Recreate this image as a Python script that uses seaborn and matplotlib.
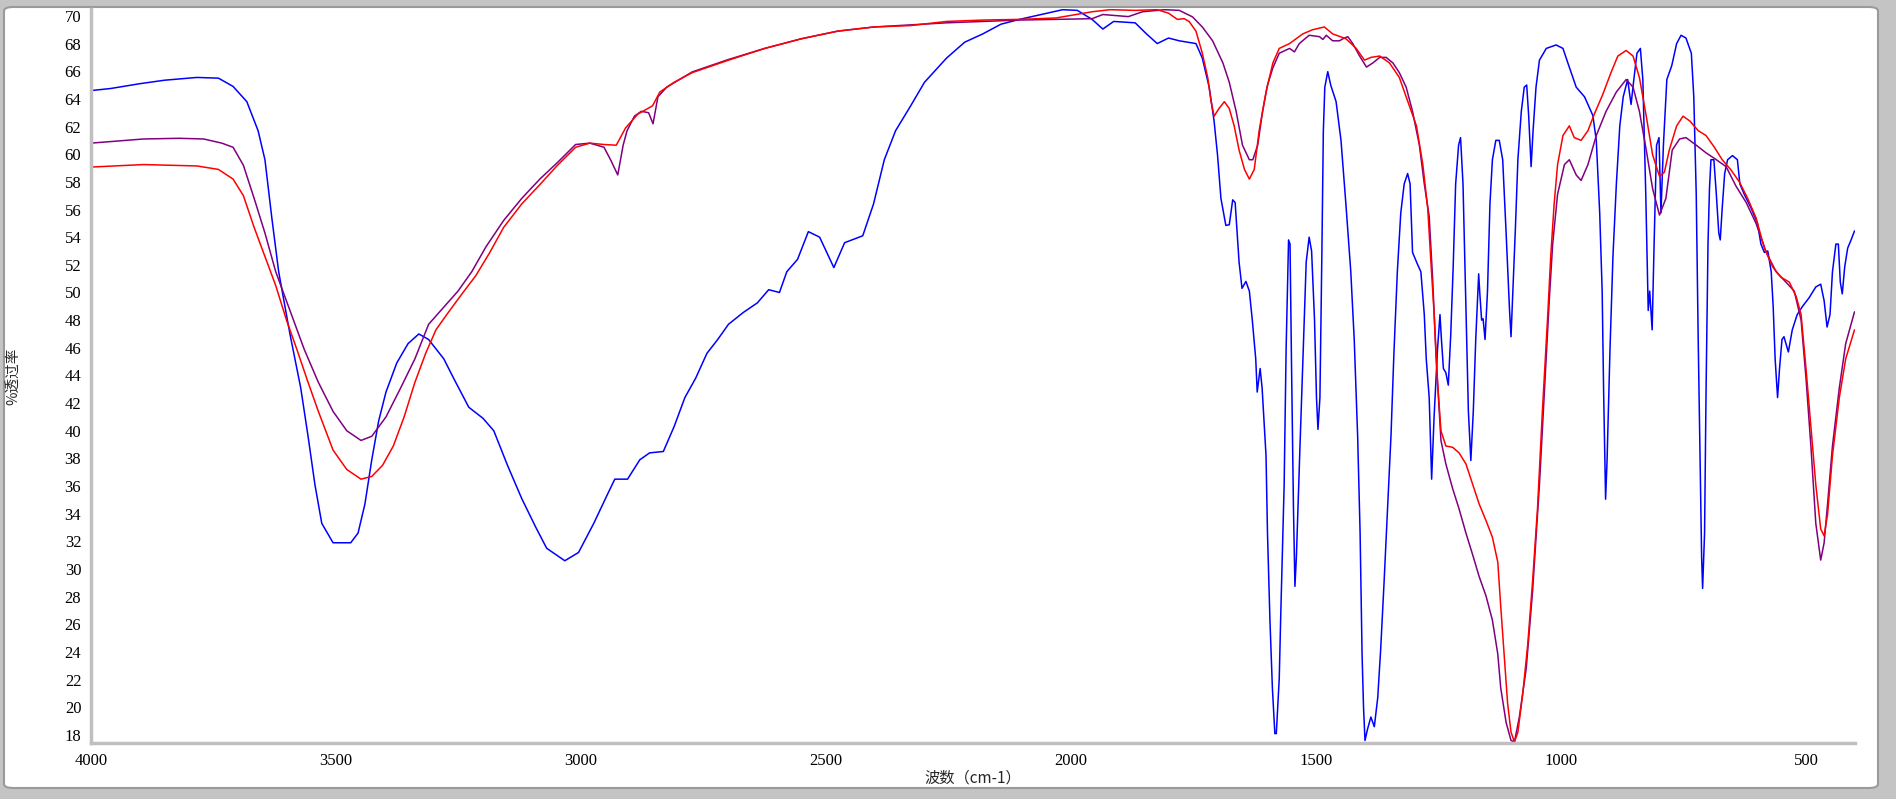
import numpy as np
import pandas as pd
import matplotlib
matplotlib.use('Agg')
import matplotlib.pyplot as plt
from matplotlib.patches import FancyBboxPatch
from matplotlib.ticker import MultipleLocator
import seaborn as sns

# 波数 (cm-1) / %透过率
blue_wn = [4000, 3960, 3900, 3850, 3784, 3740, 3710, 3682, 3659, 3645, 3631, 3617, 3594, 3572, 3557,
           3543, 3529, 3506, 3470, 3455, 3441, 3427, 3413, 3398, 3376, 3353, 3331, 3311, 3280, 3260,
           3229, 3200, 3178, 3150, 3121, 3092, 3070, 3033, 3005, 2974, 2946, 2931, 2905, 2880, 2860,
           2832, 2810, 2788, 2766, 2743, 2721, 2699, 2669, 2640, 2617, 2595, 2580, 2558, 2536, 2513,
           2484, 2462, 2425, 2403, 2381, 2358, 2328, 2299, 2254, 2217, 2180, 2143, 2105, 2061, 2017,
           1987, 1957, 1935, 1913, 1869, 1846, 1824, 1801, 1779, 1745, 1732, 1718, 1708, 1701, 1694,
           1684, 1677, 1670, 1665, 1657, 1651, 1643, 1636, 1630, 1623, 1620, 1614, 1610, 1602, 1599,
           1594, 1589, 1584, 1581, 1575, 1572, 1565, 1561, 1556, 1553, 1550, 1546, 1543, 1540, 1533,
           1526, 1520, 1514, 1509, 1503, 1499, 1496, 1492, 1488, 1485, 1482, 1476, 1470, 1459, 1449,
           1439, 1429, 1422, 1415, 1410, 1406, 1403, 1400, 1395, 1388, 1381, 1374, 1368, 1361, 1354,
           1347, 1341, 1334, 1327, 1320, 1313, 1308, 1303, 1293, 1286, 1279, 1275, 1269, 1264, 1259,
           1252, 1247, 1244, 1240, 1235, 1230, 1225, 1220, 1215, 1209, 1205, 1200, 1194, 1189, 1184,
           1179, 1174, 1168, 1166, 1162, 1159, 1155, 1150, 1145, 1140, 1133, 1126, 1119, 1112, 1105,
           1102, 1099, 1093, 1088, 1081, 1075, 1070, 1066, 1061, 1057, 1051, 1044, 1030, 1010, 996,
           986, 969, 952, 935, 928, 921, 916, 913, 909, 906, 900, 894, 887, 880, 873,
           864, 857, 852, 845, 838, 833, 827, 822, 819, 814, 810, 805, 800, 796, 791,
           784, 774, 764, 755, 745, 734, 729, 724, 720, 716, 713, 711, 707, 704, 700,
           697, 694, 688, 683, 678, 675, 671, 666, 660, 650, 640, 635, 626, 612, 599,
           592, 585, 578, 571, 567, 563, 558, 554, 549, 545, 536, 528, 518, 507, 494,
           480, 470, 463, 457, 451, 446, 439, 434, 430, 426, 421, 415, 408, 401]
blue_t = [64.6, 64.75, 65.1, 65.35, 65.55, 65.5, 64.9, 63.8, 61.7, 59.6, 55.4, 51.5, 47.0, 43.1, 39.6,
          36.1, 33.3, 31.9, 31.9, 32.6, 34.7, 37.9, 40.7, 42.8, 44.9, 46.3, 47.0, 46.6, 45.2, 43.8,
          41.7, 40.9, 40.0, 37.5, 35.1, 33.0, 31.5, 30.6, 31.2, 33.3, 35.4, 36.5, 36.5, 37.9, 38.4,
          38.5, 40.3, 42.4, 43.8, 45.6, 46.6, 47.7, 48.55, 49.25, 50.2, 50.0, 51.5, 52.4, 54.4, 54.0,
          51.8, 53.6, 54.1, 56.4, 59.6, 61.7, 63.45, 65.2, 66.95, 68.1, 68.7, 69.4, 69.75, 70.1, 70.45,
          70.4, 69.75, 69.05, 69.6, 69.5, 68.7, 68.0, 68.4, 68.2, 68.0, 66.95, 64.85, 62.4, 59.95, 56.8,
          54.85, 54.9, 56.7, 56.5, 52.2, 50.3, 50.8, 50.1, 48.0, 45.2, 42.8, 44.5, 43.1, 38.2, 32.6,
          26.3, 21.4, 18.1, 18.1, 22.1, 26.6, 36.1, 45.9, 53.8, 53.5, 44.9, 34.4, 28.75, 30.9, 38.55,
          45.9, 52.2, 54.0, 53.0, 48.0, 42.4, 40.1, 42.4, 52.9, 61.7, 64.85, 65.97, 65.0, 63.8, 61.0,
          56.4, 51.5, 46.6, 39.6, 32.6, 23.85, 20.0, 17.6, 18.4, 19.3, 18.6, 20.7, 24.2, 29.1, 34.35,
          39.6, 45.6, 51.5, 55.75, 57.85, 58.6, 57.85, 52.9, 52.05, 51.5, 48.4, 45.2, 42.4, 36.5, 41.0,
          45.9, 48.4, 46.6, 44.5, 44.2, 43.3, 46.97, 51.9, 57.85, 60.65, 61.2, 57.85, 48.7, 41.4, 37.85,
          41.4, 46.6, 51.35, 50.1, 48.0, 48.1, 46.6, 50.1, 56.4, 59.6, 61.0, 61.0, 59.6, 54.3, 48.7,
          46.8, 49.4, 54.7, 59.6, 63.1, 64.85, 65.0, 62.8, 59.1, 61.7, 64.85, 66.8, 67.65, 67.9, 67.65,
          66.6, 64.85, 64.15, 62.8, 61.0, 55.75, 50.1, 42.8, 35.05, 37.85, 45.9, 52.6, 57.85, 62.05, 64.15,
          65.4, 63.6, 65.2, 67.3, 67.65, 65.4, 57.1, 48.7, 50.1, 47.3, 53.5, 60.65, 61.2, 55.75, 60.65,
          65.4, 66.4, 68.0, 68.6, 68.4, 67.3, 64.15, 57.1, 46.6, 37.85, 30.85, 28.6, 32.6, 42.8, 53.5,
          57.5, 59.6, 59.6, 57.1, 54.3, 53.8, 56.1, 58.6, 59.6, 59.9, 59.6, 57.85, 57.1, 56.1, 55.0,
          53.5, 52.9, 53.0, 51.5, 49.0, 45.2, 42.4, 44.5, 46.6, 46.8, 45.7, 47.3, 48.4, 49.0, 49.6,
          50.4, 50.6, 49.4, 47.5, 48.4, 51.5, 53.5, 53.5, 50.75, 49.9, 51.85, 53.2, 53.8, 54.45]

purple_wn = [4000, 3893, 3820, 3770, 3733, 3710, 3689, 3667, 3645, 3623, 3594, 3565, 3536, 3506, 3478,
             3449, 3427, 3398, 3368, 3339, 3311, 3281, 3251, 3223, 3194, 3158, 3121, 3084, 3048, 3011,
             2982, 2953, 2939, 2925, 2914, 2906, 2891, 2877, 2862, 2853, 2843, 2825, 2773, 2699, 2625,
             2550, 2476, 2402, 2328, 2254, 2180, 2105, 2031, 1957, 1935, 1883, 1854, 1809, 1779, 1752,
             1732, 1711, 1690, 1677, 1663, 1650, 1636, 1629, 1619, 1609, 1599, 1588, 1575, 1554, 1544,
             1534, 1514, 1493, 1486, 1479, 1466, 1452, 1445, 1435, 1425, 1411, 1397, 1384, 1370, 1357,
             1343, 1330, 1316, 1303, 1289, 1279, 1269, 1262, 1255, 1245, 1235, 1221, 1208, 1194, 1180,
             1167, 1153, 1140, 1129, 1123, 1112, 1102, 1095, 1085, 1071, 1058, 1044, 1034, 1024, 1017,
             1007, 993, 983, 969, 959, 945, 928, 908, 887, 867, 853, 840, 826, 813, 799,
             786, 773, 758, 745, 724, 704, 683, 663, 643, 622, 602, 581, 561, 541, 524,
             510, 500, 490, 480, 470, 463, 456, 446, 432, 419, 401]
purple_t = [60.8, 61.1, 61.15, 61.1, 60.8, 60.5, 59.2, 56.8, 54.3, 51.5, 48.7, 45.9, 43.5, 41.4, 40.0,
            39.3, 39.6, 41.0, 43.1, 45.2, 47.7, 48.9, 50.1, 51.5, 53.3, 55.2, 56.8, 58.2, 59.4, 60.7,
            60.8, 60.5, 59.55, 58.5, 60.65, 61.7, 62.75, 63.1, 63.0, 62.2, 64.15, 64.85, 65.95, 66.85, 67.65,
            68.35, 68.9, 69.2, 69.35, 69.5, 69.6, 69.7, 69.75, 69.8, 70.1, 69.95, 70.3, 70.45, 70.4, 69.93,
            69.2, 68.2, 66.6, 65.2, 63.1, 60.65, 59.6, 59.6, 60.65, 63.1, 65.0, 66.25, 67.3, 67.65, 67.4,
            68.0, 68.6, 68.5, 68.3, 68.6, 68.2, 68.2, 68.35, 68.5, 68.0, 67.1, 66.3, 66.6, 67.0, 67.0,
            66.6, 65.9, 64.85, 63.1, 60.65, 57.85, 55.5, 51.0, 45.4, 39.3, 37.6, 35.8, 34.35, 32.6, 31.0,
            29.45, 28.05, 26.3, 23.85, 21.4, 18.9, 17.6, 17.5, 19.3, 22.8, 28.4, 36.1, 42.8, 49.4, 53.5,
            57.1, 59.25, 59.6, 58.5, 58.1, 59.25, 61.35, 63.1, 64.5, 65.4, 64.85, 63.1, 60.3, 57.5, 55.6,
            56.8, 60.3, 61.1, 61.2, 60.65, 60.1, 59.6, 59.1, 57.7, 56.5, 55.0, 52.9, 51.5, 50.75, 50.1,
            48.0, 43.8, 38.9, 33.3, 30.65, 31.9, 34.7, 38.9, 43.1, 46.3, 48.6]

red_wn = [4000, 3893, 3784, 3740, 3710, 3689, 3667, 3645, 3623, 3601, 3580, 3557, 3536, 3506, 3478,
          3449, 3427, 3405, 3383, 3361, 3339, 3317, 3296, 3274, 3245, 3215, 3186, 3158, 3121, 3084,
          3048, 3011, 2982, 2953, 2928, 2909, 2884, 2854, 2839, 2810, 2773, 2699, 2625, 2550, 2476,
          2402, 2328, 2254, 2180, 2105, 2031, 1957, 1920, 1869, 1824, 1801, 1783, 1769, 1759, 1745,
          1732, 1721, 1714, 1708, 1698, 1687, 1677, 1667, 1657, 1646, 1636, 1626, 1616, 1602, 1588,
          1575, 1554, 1527, 1507, 1483, 1466, 1439, 1418, 1401, 1388, 1370, 1350, 1330, 1309, 1295,
          1282, 1272, 1266, 1259, 1252, 1245, 1235, 1221, 1208, 1194, 1180, 1167, 1153, 1140, 1129,
          1123, 1116, 1109, 1102, 1095, 1088, 1078, 1068, 1058, 1048, 1038, 1027, 1021, 1014, 1007,
          996, 983, 973, 959, 945, 932, 915, 898, 884, 867, 853, 840, 826, 813, 799,
          789, 779, 764, 751, 737, 720, 704, 687, 671, 654, 636, 619, 602, 585, 568,
          551, 534, 520, 510, 500, 490, 480, 470, 463, 456, 446, 432, 419, 401]
red_t = [59.07, 59.25, 59.15, 58.9, 58.2, 57.0, 54.7, 52.6, 50.5, 48.0, 45.9, 43.5, 41.4, 38.6, 37.2,
         36.5, 36.7, 37.5, 38.9, 41.0, 43.5, 45.6, 47.3, 48.4, 49.8, 51.2, 52.9, 54.7, 56.4, 57.8,
         59.2, 60.5, 60.8, 60.7, 60.65, 61.9, 62.9, 63.5, 64.5, 65.2, 65.9, 66.8, 67.65, 68.35, 68.9,
         69.2, 69.3, 69.6, 69.7, 69.75, 69.85, 70.3, 70.45, 70.4, 70.45, 70.2, 69.75, 69.8, 69.6, 68.9,
         67.3, 65.55, 63.8, 62.75, 63.3, 63.8, 63.3, 62.05, 60.3, 58.9, 58.2, 58.9, 61.7, 64.5, 66.6,
         67.65, 68.0, 68.7, 69.0, 69.2, 68.7, 68.35, 67.65, 66.8, 67.0, 67.1, 66.6, 65.55, 63.45, 62.05,
         59.25, 56.1, 52.5, 48.5, 43.5, 40.0, 38.9, 38.8, 38.4, 37.6, 36.1, 34.7, 33.5, 32.3, 30.5,
         27.3, 23.85, 20.3, 18.2, 17.5, 18.2, 21.0, 24.5, 29.1, 34.35, 41.4, 48.4, 52.6, 56.4, 59.25,
         61.35, 62.05, 61.2, 61.0, 61.7, 62.9, 64.3, 65.9, 67.1, 67.5, 67.1, 65.55, 62.75, 59.95, 58.4,
         58.7, 60.3, 62.05, 62.75, 62.4, 61.7, 61.35, 60.5, 59.6, 58.9, 58.0, 56.8, 55.4, 53.2, 51.85,
         51.1, 50.75, 49.7, 48.4, 44.5, 40.3, 36.1, 32.9, 32.4, 33.95, 38.2, 42.4, 45.2, 47.3]

sns.set_style('white')
plt.rcParams['font.family'] = ['Liberation Serif', 'Noto Sans CJK SC']

W, H = 1896, 799
fig = plt.figure(figsize=(W / 100, H / 100), dpi=100)
fig.patch.set_facecolor('#c4c4c4')

# white panel with rounded corners, like the instrument software window
panel = FancyBboxPatch((4 / W, 11 / H), 1874 / W, 781 / H,
                       boxstyle='round,pad=0,rounding_size=0.005',
                       transform=fig.transFigure, facecolor='white',
                       edgecolor='#9a9a9a', linewidth=1.5, zorder=-5)
fig.add_artist(panel)

ax = fig.add_axes([91 / W, 56 / H, 1764 / W, 734 / H])
ax.set_facecolor('none')

for wn, t, col in [(blue_wn, blue_t, '#0000ff'),
                   (purple_wn, purple_t, '#800080'),
                   (red_wn, red_t, '#ff0000')]:
    df = pd.DataFrame({'wn': wn, 't': t})
    sns.lineplot(data=df, x='wn', y='t', color=col, linewidth=1.1,
                 estimator=None, sort=False, ax=ax)

ax.set_xlim(4000, 400)
ax.set_ylim(17.42, 70.5)
ax.xaxis.set_major_locator(MultipleLocator(500))
ax.xaxis.set_minor_locator(MultipleLocator(100))
ax.yaxis.set_major_locator(MultipleLocator(2))
ax.yaxis.set_minor_locator(MultipleLocator(0.5))

for s in ['top', 'right']:
    ax.spines[s].set_visible(False)
for s in ['left', 'bottom']:
    ax.spines[s].set_color('#c0c0c0')
    ax.spines[s].set_linewidth(2.5)

ax.tick_params(which='major', direction='out', length=4, width=1, color='black',
               labelsize=12, labelcolor='black', pad=3)
ax.tick_params(which='minor', direction='out', length=2, width=1, color='black')

ax.set_xlabel('波数（cm-1）', fontsize=11, family=['Noto Sans CJK SC', 'DejaVu Sans'])
ax.set_ylabel('%透过率', fontsize=10.5, family=['Noto Sans CJK SC', 'DejaVu Sans'])
ax.xaxis.set_label_coords(0.5, -0.048)
ax.xaxis.label.set_va('center')
ax.yaxis.set_label_coords(-0.0442, 0.5)
ax.yaxis.label.set_va('center')

fig.savefig('out.png', dpi=100)
